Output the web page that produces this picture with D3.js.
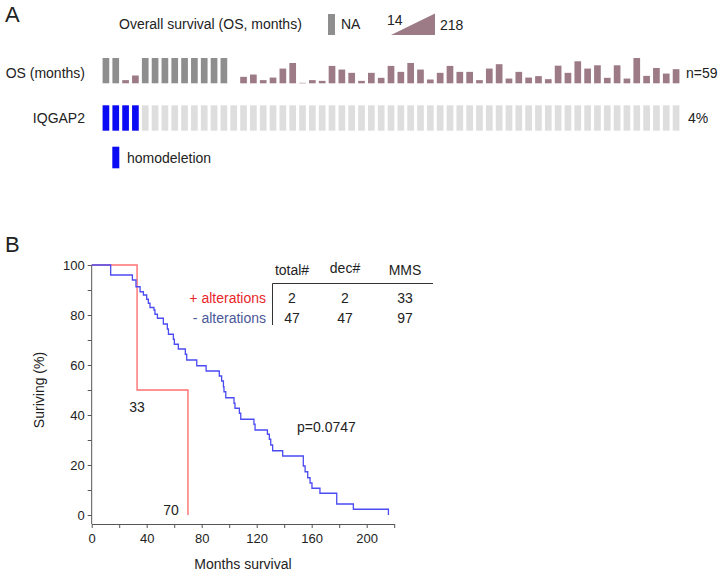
<!DOCTYPE html>
<html><head><meta charset="utf-8">
<script src="https://cdn.jsdelivr.net/npm/d3@7"></script>
<style>
body{margin:0;background:#fff;}
svg text{font-family:"Liberation Sans",Arial,sans-serif;fill:#222;}
</style></head>
<body><svg id="c" width="725" height="574"></svg>
<script>
// ---------- Panel A data ----------
// OS months per sample; null = NA (gray), undefined-ish -1 = empty column
const osMonths = [null,null,36,74,null,null,null,null,null,null,null,null,null,-1,
  63,82,36,57,131,177,14,36,30,153,123,96,30,96,55,153,
  104,177,123,41,96,153,104,104,36,131,167,49,104,57,69,44,155,96,191,131,
  158,55,158,49,218,71,136,90,126];
const altStatus = osMonths.map((d,i)=> i<4 ? "homodeletion" : "none");
const osRange = [14,218];

// ---------- Panel B data ----------
const blueT = [0,13.8,29.6,32.2,35.2,37.6,40,41.2,42.4,45.3,46,47.8,52.1,55,55.8,59.4,60.1,63,68.1,69.1,76.4,83.2,92.8,94.5,95.8,96.2,97.5,103.5,104.2,107.4,108.4,118,118.8,127.8,129.2,130.2,131.6,138.9,153.9,155.2,157.1,158.8,160.2,166,178.2,190.3,215.8];
const blueS = [100,96,94,91.3,89.3,88,86.3,84.7,83,82,80.3,78.7,76.4,74.4,72.3,70.3,68.3,66.4,64.3,62,59.7,57.6,55.6,53.6,51.3,49.3,46.9,44.7,42.7,40.7,38.3,36.3,34,32.3,30.3,28,25.7,23.6,19.6,17.3,14.9,12.8,10.7,8.7,4.4,2.3,0];
const redT = [0,33,70];
const redS = [100,50,0];
const tableHeader = ["total#","dec#","MMS"];
const tableRows = [
  {label:"+ alterations", vals:[2,2,33]},
  {label:"- alterations", vals:[47,47,97]}
];
const yTicks = d3.range(0,101,10);
const xTicks = d3.range(0,221,20);

const svg = d3.select("#c");
const FS = 14;

// ===== Panel A =====
svg.append("text").attr("x",5).attr("y",22).attr("font-size",22).text("A");
svg.append("text").attr("x",119).attr("y",29).attr("font-size",FS).text("Overall survival (OS, months)");
svg.append("rect").attr("x",328).attr("y",14).attr("width",7).attr("height",21).attr("fill","#8e8e8e");
svg.append("text").attr("x",341).attr("y",29).attr("font-size",FS).text("NA");
svg.append("text").attr("x",387).attr("y",25).attr("font-size",FS).text(osRange[0]);
svg.append("path").attr("d","M391,35L435,13.5L435,35Z").attr("fill","#9c7b86");
svg.append("text").attr("x",440).attr("y",30).attr("font-size",FS).text(osRange[1]);

const xb = d3.scaleBand().domain(d3.range(osMonths.length)).range([101,681]).paddingInner(0.32).paddingOuter(0.16);
const hScale = d3.scaleLinear().domain(osRange).range([0.5,25.3]);
const base = 83.3;
svg.append("text").attr("x",85).attr("y",78).attr("font-size",FS).attr("text-anchor","end").text("OS (months)");
svg.append("g").selectAll("rect").data(osMonths.map((v,i)=>({v,i})).filter(d=>d.v!==-1)).join("rect")
  .attr("x",d=>xb(d.i)).attr("width",xb.bandwidth())
  .attr("y",d=> d.v===null ? base-25.3 : base-hScale(d.v))
  .attr("height",d=> d.v===null ? 25.3 : hScale(d.v))
  .attr("fill",d=> d.v===null ? "#8e8e8e" : "#9c7b86");
svg.append("text").attr("x",686).attr("y",78).attr("font-size",FS).text("n=59");

svg.append("text").attr("x",85).attr("y",123).attr("font-size",FS).attr("text-anchor","end").text("IQGAP2");
svg.append("g").selectAll("rect").data(altStatus).join("rect")
  .attr("x",(d,i)=>xb(i)).attr("width",xb.bandwidth())
  .attr("y",105.3).attr("height",25.4)
  .attr("fill",d=> d==="homodeletion" ? "#0a0af5" : "#dedede");
svg.append("text").attr("x",688).attr("y",123).attr("font-size",FS).text("4%");

svg.append("rect").attr("x",112.3).attr("y",146.7).attr("width",7).attr("height",21.6).attr("fill","#0a0af5");
svg.append("text").attr("x",127).attr("y",163).attr("font-size",FS).text("homodeletion");

// ===== Panel B =====
svg.append("text").attr("x",5).attr("y",252).attr("font-size",22).text("B");
const x = d3.scaleLinear().domain([0,220]).range([91.7,394.2]);
const y = d3.scaleLinear().domain([0,100]).range([515,265]);
const axisY = 524;

const gx = svg.append("g").attr("transform",`translate(0,${axisY})`)
  .call(d3.axisBottom(x).tickValues(xTicks).tickSize(4).tickSizeOuter(0)
    .tickFormat(d=> d%40===0 ? d : ""));
gx.select(".domain").attr("stroke","#555");
gx.selectAll(".tick line").attr("stroke","#555");
gx.selectAll(".tick text").attr("font-size",13).attr("fill","#222").attr("dy","0.95em").attr("font-family","Liberation Sans,Arial,sans-serif");

const gy = svg.append("g").attr("transform",`translate(${x(0)},0)`)
  .call(d3.axisLeft(y).tickValues(yTicks).tickSize(4)
    .tickFormat(d=> d%20===0 ? d : ""));
gy.select(".domain").remove();
gy.selectAll(".tick line").attr("stroke","#555");
gy.selectAll(".tick text").attr("font-size",13).attr("fill","#222").attr("font-family","Liberation Sans,Arial,sans-serif");
svg.append("line").attr("x1",x(0)).attr("x2",x(0)).attr("y1",y(100)).attr("y2",axisY).attr("stroke","#555");

const line = d3.line().x(d=>x(d[0])).y(d=>y(d[1])).curve(d3.curveStepAfter);
svg.append("path").attr("d",line(redT.map((t,i)=>[t,redS[i]]))).attr("fill","none").attr("stroke","#ff7070").attr("stroke-width",1.4);
svg.append("path").attr("d",line(blueT.map((t,i)=>[t,blueS[i]]))).attr("fill","none").attr("stroke","#4b4bf2").attr("stroke-width",1.3);

svg.append("text").attr("x",x(33)).attr("y",412).attr("font-size",FS).attr("text-anchor","middle").text("33");
svg.append("text").attr("x",171).attr("y",515).attr("font-size",FS).attr("text-anchor","middle").text("70");
svg.append("text").attr("x",297).attr("y",432).attr("font-size",FS).text("p=0.0747");

// table
const colX = [292,345,405];
tableHeader.forEach((h,i)=> svg.append("text").attr("x",colX[i]).attr("y",i===1?273:275).attr("font-size",FS).attr("text-anchor","middle").text(h));
svg.append("line").attr("x1",272.5).attr("x2",433).attr("y1",283.5).attr("y2",283.5).attr("stroke","#333");
svg.append("line").attr("x1",272.5).attr("x2",272.5).attr("y1",283.5).attr("y2",325).attr("stroke","#333");
tableRows.forEach((r,j)=>{
  const yy = 303 + j*20;
  svg.append("text").attr("x",266).attr("y",yy).attr("font-size",FS).attr("text-anchor","end")
    .style("fill", j===0 ? "#e8262a" : "#4a5899").text(r.label);
  r.vals.forEach((v,i)=> svg.append("text").attr("x",colX[i]).attr("y",yy).attr("font-size",FS).attr("text-anchor","middle").text(v));
});

svg.append("text").attr("x",243).attr("y",569).attr("font-size",FS).attr("text-anchor","middle").text("Months survival");
svg.append("text").attr("transform","translate(44,390) rotate(-90)").attr("font-size",FS).attr("text-anchor","middle").text("Suriving (%)");
</script></body></html>
